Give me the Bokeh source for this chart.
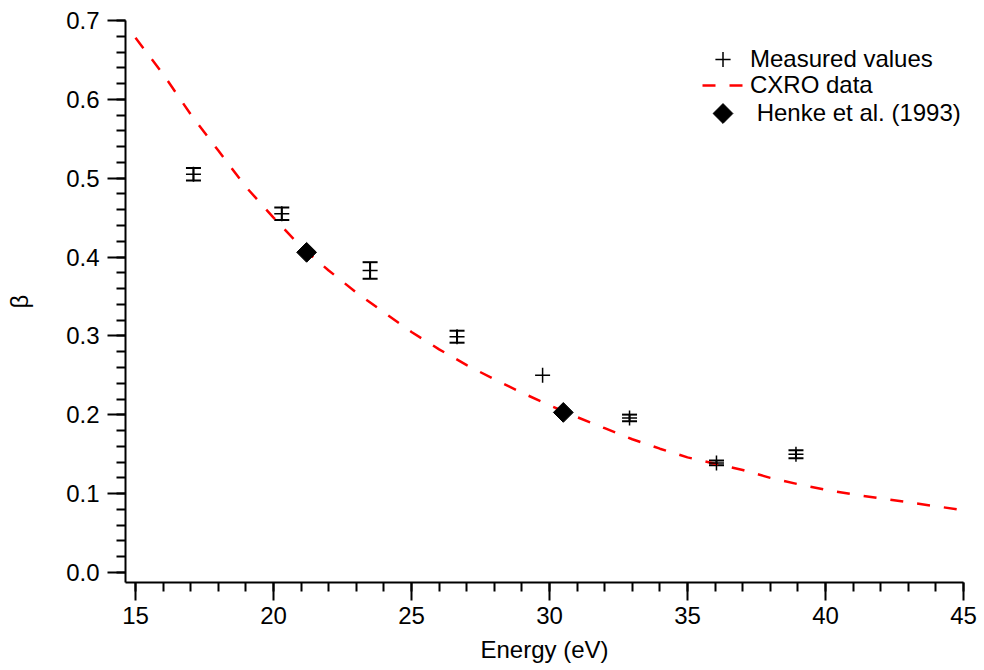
import numpy as np
from bokeh.plotting import figure
from bokeh.models import (Range1d, SingleIntervalTicker, PrintfTickFormatter,
                          ColumnDataSource, Whisker, TeeHead, Legend, LegendItem)
from bokeh.embed import file_html
from bokeh.resources import INLINE

# ---- data ----
meas_energy = [17.1, 20.3, 23.5, 26.65, 29.75, 32.9, 36.05, 38.93]
meas_beta = [0.505, 0.455, 0.383, 0.299, 0.250, 0.196, 0.139, 0.150]
meas_err = [0.008, 0.008, 0.0105, 0.0076, 0.0, 0.0042, 0.003, 0.005]

cxro_energy = [15, 16, 17, 18, 19, 20, 21, 22, 23, 24, 25, 26, 27, 28, 29, 30,
               31, 32, 33, 34, 35, 36, 37, 38, 39, 40, 41, 42, 43, 44, 45]
cxro_beta = [0.678, 0.632, 0.581, 0.535, 0.489, 0.450, 0.413, 0.383, 0.355,
             0.330, 0.305, 0.283, 0.263, 0.245, 0.228, 0.212, 0.197, 0.183,
             0.169, 0.157, 0.146, 0.138, 0.130, 0.120, 0.112, 0.105, 0.099,
             0.094, 0.089, 0.084, 0.079]

henke_energy = [21.2, 30.5]
henke_beta = [0.406, 0.203]

x_label = "Energy (eV)"
y_label = "β"
legend_labels = ["Measured values", "CXRO data", " Henke et al. (1993)"]

FONT = "Liberation Sans"
FRAME_W, FRAME_H = 838, 562

p = figure(width=984, height=670, output_backend="svg", toolbar_location=None,
           x_range=Range1d(15 - 10 / 27.6, 45), y_range=Range1d(-0.0127, 0.70001),
           min_border_left=125, min_border_right=21, min_border_top=20,
           min_border_bottom=88)
p.outline_line_color = None
p.xgrid.visible = False
p.ygrid.visible = False
p.background_fill_color = "white"
p.border_fill_color = "white"
# pixel-unit ranges used only to place the legend key
p.extra_x_ranges = {"px": Range1d(0, FRAME_W)}
p.extra_y_ranges = {"px": Range1d(0, FRAME_H)}

for ax in (p.xaxis[0], p.yaxis[0]):
    ax.axis_line_width = 2
    ax.major_tick_line_width = 2
    ax.minor_tick_line_width = 2
    ax.major_tick_in = 0
    ax.major_tick_out = 18
    ax.minor_tick_in = 0
    ax.minor_tick_out = 9
    ax.major_label_text_font = FONT
    ax.major_label_text_font_size = "24px"
    ax.major_label_text_color = "black"
    ax.axis_label_text_font = FONT
    ax.axis_label_text_font_size = "24px"
    ax.axis_label_text_font_style = "normal"
    ax.axis_label_text_color = "black"

p.xaxis[0].major_label_standoff = 6
p.yaxis[0].major_label_standoff = 8
p.xaxis[0].ticker = SingleIntervalTicker(interval=5, num_minor_ticks=5)
p.yaxis[0].ticker = SingleIntervalTicker(interval=0.1, num_minor_ticks=5)
p.yaxis[0].formatter = PrintfTickFormatter(format="%.1f")
p.xaxis[0].axis_label = x_label
p.yaxis[0].axis_label = y_label
p.xaxis[0].axis_label_standoff = 9
p.yaxis[0].axis_label_standoff = 30

# CXRO curve
cxro = p.line(cxro_energy, cxro_beta, line_color="#ff0000", line_width=2.5,
              line_dash="13 14")

# error bars (only where an error exists)
idx = [i for i, e in enumerate(meas_err) if e > 0]
err_src = ColumnDataSource(dict(
    x=[meas_energy[i] for i in idx],
    upper=[meas_beta[i] + meas_err[i] for i in idx],
    lower=[meas_beta[i] - meas_err[i] for i in idx],
))
wh = Whisker(source=err_src, base="x", upper="upper", lower="lower",
             dimension="height", line_width=2, line_color="black",
             upper_head=TeeHead(size=15, line_width=2, line_color="black"),
             lower_head=TeeHead(size=15, line_width=2, line_color="black"))
p.add_layout(wh)

meas = p.scatter(meas_energy, meas_beta, marker="cross", size=15,
                 line_color="black", line_width=1.5)

henke = p.scatter(henke_energy, henke_beta, marker="square", angle=np.pi / 4,
                  size=14, fill_color="black", line_color="black")

GLYPH_W = 41


def make_legend(label, renderer, loc, gh):
    lg = Legend(items=[LegendItem(label=label, renderers=[renderer])],
                location=loc)
    lg.border_line_alpha = 0
    lg.background_fill_alpha = 0
    lg.padding = 0
    lg.margin = 0
    lg.spacing = 0
    lg.glyph_width = GLYPH_W
    lg.glyph_height = gh
    lg.label_height = gh
    lg.label_standoff = 7
    lg.label_text_font = FONT
    lg.label_text_font_size = "24px"
    lg.label_text_color = "black"
    p.add_layout(lg, "center")


make_legend(legend_labels[0], meas, (577, 504), 38)
make_legend(legend_labels[1], cxro, (577, 482), 30)

# Henke legend row: Bokeh's legend draws markers unrotated, so the key is an
# invisible legend glyph plus a rotated square at the centre of the key box.
henke_loc, henke_gh = (577, 451), 36
henke_blank = p.scatter([], [], marker="square", fill_alpha=0, line_alpha=0)
make_legend(legend_labels[2], henke_blank, henke_loc, henke_gh)
p.scatter([henke_loc[0] + GLYPH_W / 2], [henke_loc[1] + henke_gh / 2],
          x_range_name="px", y_range_name="px",
          marker="square", angle=np.pi / 4, size=14,
          fill_color="black", line_color="black")

open("out.html", "w").write(file_html(p, INLINE))
